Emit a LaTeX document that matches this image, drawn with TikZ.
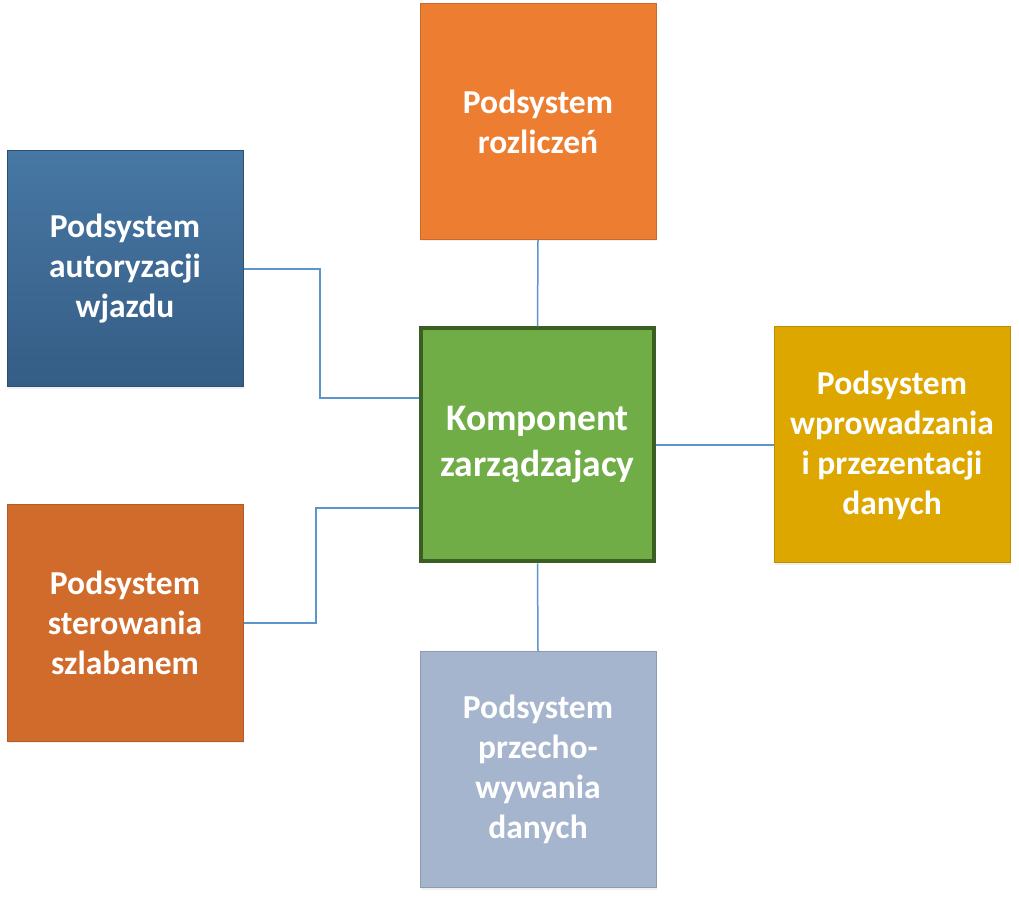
\documentclass[tikz,border=0pt]{standalone}
\usepackage{fontspec}
\setmainfont{Carlito}
\usetikzlibrary{positioning, shadows}
\definecolor{orangeTop}{HTML}{ED7D31}
\definecolor{blueTop}{HTML}{4777A4}
\definecolor{blueBot}{HTML}{355D85}
\definecolor{greenMid}{HTML}{70AD47}
\definecolor{greenEdge}{HTML}{3B5E23}
\definecolor{goldRight}{HTML}{DDA700}
\definecolor{brownLeft}{HTML}{D06B2B}
\definecolor{greyBlue}{HTML}{A6B5CE}
\definecolor{linkBlue}{HTML}{5B95CC}

\begin{document}
\begin{tikzpicture}[x=1pt, y=1pt,
    sub/.style={rectangle, minimum size=236pt, inner sep=0pt, align=center, text=white,
        font=\bfseries\fontsize{33.5}{40}\selectfont, line width=1pt,
        drop shadow={opacity=0.12, shadow xshift=1pt, shadow yshift=-2pt}},
    link/.style={draw=linkBlue, line width=1.5pt}]
			\useasboundingbox (0,0) rectangle (1019,900);
			% Central component
			\node[sub, fill=greenMid, draw=greenEdge, line width=4pt, minimum size=233pt,
			      font=\bfseries\fontsize{37.5}{46}\selectfont] (zarz) at (537.5,455) {Komponent\\zarządzajacy};
			
			% Subsystems around it
			\node[sub, fill=orangeTop, draw=orangeTop!85!black] (rozl) at (538,778.5) {Podsystem\\rozliczeń};
			\node[sub, top color=blueTop, bottom color=blueBot, draw=blueBot!85!black] (autor) at (125,631) {Podsystem\\autoryzacji\\wjazdu};
			\node[sub, fill=goldRight, draw=goldRight!85!black] (wprow) at (892,455) {Podsystem\\wprowadzania\\i przezentacji\\danych};
			\node[sub, fill=brownLeft, draw=brownLeft!85!black] (sterow) at (125,277) {Podsystem\\sterowania\\szlabanem};
			\node[sub, fill=greyBlue, draw=greyBlue!85!black] (przech) at (538,130.5) {Podsystem\\przecho-\\wywania\\danych};
			
			% Bends of the side links
			\coordinate (kA) at (320,502);
			\coordinate (kS) at (316,392);
			
			% Links
			\draw[link] (rozl.south) -- (zarz.north);
			\draw[link] (autor.east) -| (kA) -- (zarz.west |- kA);
			\draw[link] (sterow.east) -| (kS) -- (zarz.west |- kS);
			\draw[link] (zarz.east) -- (wprow.west);
			\draw[link] (zarz.south) -- (przech.north);
		\end{tikzpicture}
\end{document}
